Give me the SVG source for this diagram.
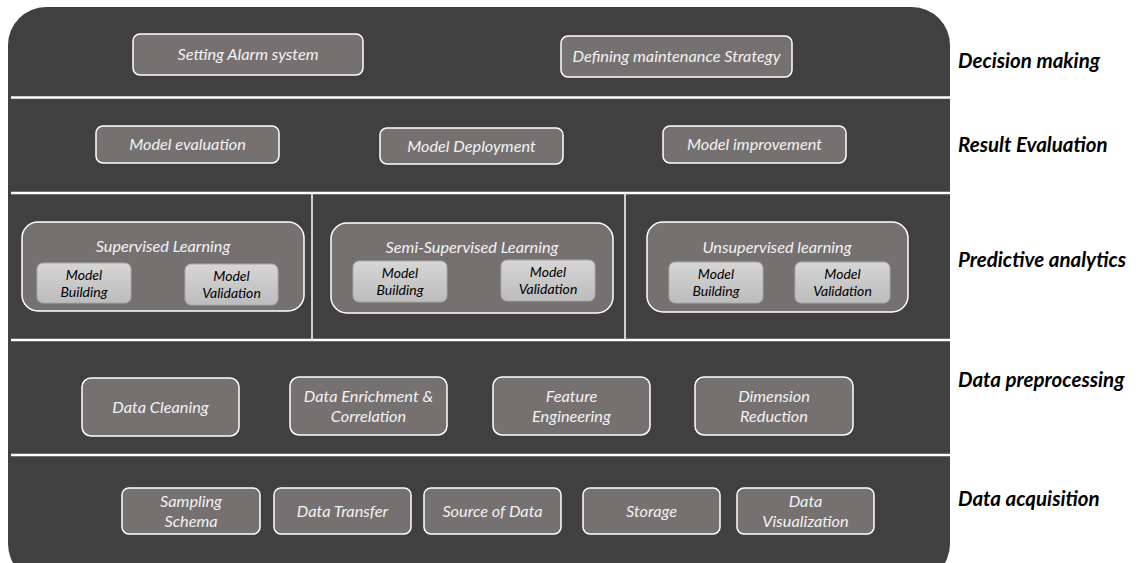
<svg xmlns="http://www.w3.org/2000/svg" width="1138" height="563" viewBox="0 0 1138 563">
  <defs>
    <linearGradient id="innerFill" x1="0" y1="0" x2="0" y2="1">
      <stop offset="0" stop-color="#d6d6d6"/>
      <stop offset="1" stop-color="#bcbcbc"/>
    </linearGradient>
    <style>
      .panel { fill: #404040; }
      .sep { stroke: #ffffff; stroke-width: 2.5; fill: none; }
      .vsep { stroke: #ffffff; stroke-width: 1.5; fill: none; }
      .box { fill: #767171; stroke: #ffffff; stroke-width: 1.5; }
      .group { fill: #767171; stroke: #ffffff; stroke-width: 1.5; }
      .inner { fill: url(#innerFill); stroke: #a8a8a8; stroke-width: 1; }
      .t { font-family: Lato, "Liberation Sans", sans-serif; font-style: italic; font-size: 16.3px; fill: #f2f2f2; text-anchor: middle; }
      .ti { font-family: Lato, "Liberation Sans", sans-serif; font-style: italic; font-size: 14px; fill: #000000; text-anchor: middle; }
      .layer { font-family: Lato, "Liberation Sans", sans-serif; font-style: italic; font-weight: bold; font-size: 20.5px; fill: #000000; }
    </style>
  </defs>

  <rect width="1138" height="563" fill="#ffffff"/>

  <!-- dark stack panel, bottom edge runs past the canvas -->
  <rect class="panel" x="8" y="7" width="942" height="575" rx="38" ry="38"/>

  <!-- layer dividers -->
  <g id="dividers">
    <line class="sep" x1="11" y1="97.5" x2="950" y2="97.5"/>
    <line class="sep" x1="11" y1="193" x2="950" y2="193"/>
    <line class="sep" x1="11" y1="340" x2="950" y2="340"/>
    <line class="sep" x1="11" y1="455" x2="950" y2="455"/>
    <line class="vsep" x1="312" y1="193" x2="312" y2="340"/>
    <line class="vsep" x1="625" y1="193" x2="625" y2="340"/>
  </g>

  <!-- Decision making -->
  <g id="setting-alarm">
    <rect class="box" x="133" y="34" width="230" height="41" rx="7"/>
    <text class="t" x="248" y="60">Setting Alarm system</text>
  </g>
  <g id="maintenance-strategy">
    <rect class="box" x="561" y="36" width="231" height="41" rx="7"/>
    <text class="t" x="676.5" y="62">Defining maintenance Strategy</text>
  </g>

  <!-- Result evaluation -->
  <g id="model-evaluation">
    <rect class="box" x="96" y="126" width="183" height="37" rx="7"/>
    <text class="t" x="187.5" y="150">Model evaluation</text>
  </g>
  <g id="model-deployment">
    <rect class="box" x="380" y="128" width="183" height="36" rx="7"/>
    <text class="t" x="471.5" y="152">Model Deployment</text>
  </g>
  <g id="model-improvement">
    <rect class="box" x="663" y="126" width="183" height="37" rx="7"/>
    <text class="t" x="754.5" y="150">Model improvement</text>
  </g>

  <!-- Predictive analytics -->
  <g id="supervised">
    <rect class="group" x="22" y="222" width="282" height="89" rx="16"/>
    <text class="t" x="163" y="252">Supervised Learning</text>
    <g id="supervised-building">
      <rect class="inner" x="37" y="263" width="94" height="40" rx="6"/>
      <text class="ti" x="84" y="280">Model</text>
      <text class="ti" x="84" y="297">Building</text>
    </g>
    <g id="supervised-validation">
      <rect class="inner" x="185" y="264" width="93" height="41" rx="6"/>
      <text class="ti" x="231.5" y="281">Model</text>
      <text class="ti" x="231.5" y="298">Validation</text>
    </g>
  </g>
  <g id="semi-supervised">
    <rect class="group" x="331" y="223" width="282" height="90" rx="16"/>
    <text class="t" x="472" y="253">Semi-Supervised Learning</text>
    <g id="semi-building">
      <rect class="inner" x="353" y="261" width="94" height="41" rx="6"/>
      <text class="ti" x="400" y="278">Model</text>
      <text class="ti" x="400" y="295">Building</text>
    </g>
    <g id="semi-validation">
      <rect class="inner" x="501" y="260" width="94" height="41" rx="6"/>
      <text class="ti" x="548" y="277">Model</text>
      <text class="ti" x="548" y="294">Validation</text>
    </g>
  </g>
  <g id="unsupervised">
    <rect class="group" x="647" y="222" width="261" height="90" rx="16"/>
    <text class="t" x="777" y="253">Unsupervised learning</text>
    <g id="unsupervised-building">
      <rect class="inner" x="669" y="262" width="94" height="41" rx="6"/>
      <text class="ti" x="716" y="279">Model</text>
      <text class="ti" x="716" y="296">Building</text>
    </g>
    <g id="unsupervised-validation">
      <rect class="inner" x="795" y="262" width="95" height="41" rx="6"/>
      <text class="ti" x="842.5" y="279">Model</text>
      <text class="ti" x="842.5" y="296">Validation</text>
    </g>
  </g>

  <!-- Data preprocessing -->
  <g id="data-cleaning">
    <rect class="box" x="82" y="378" width="157" height="58" rx="9"/>
    <text class="t" x="160.5" y="413">Data Cleaning</text>
  </g>
  <g id="data-enrichment">
    <rect class="box" x="290" y="377" width="157" height="58" rx="9"/>
    <text class="t" x="368.5" y="402">Data Enrichment &amp;</text>
    <text class="t" x="368.5" y="422">Correlation</text>
  </g>
  <g id="feature-engineering">
    <rect class="box" x="493" y="377" width="157" height="58" rx="9"/>
    <text class="t" x="571.5" y="402">Feature</text>
    <text class="t" x="571.5" y="422">Engineering</text>
  </g>
  <g id="dimension-reduction">
    <rect class="box" x="695" y="377" width="158" height="58" rx="9"/>
    <text class="t" x="774" y="402">Dimension</text>
    <text class="t" x="774" y="422">Reduction</text>
  </g>

  <!-- Data acquisition -->
  <g id="sampling-schema">
    <rect class="box" x="122" y="488" width="138" height="46" rx="7"/>
    <text class="t" x="191" y="507">Sampling</text>
    <text class="t" x="191" y="527">Schema</text>
  </g>
  <g id="data-transfer">
    <rect class="box" x="274" y="488" width="137" height="46" rx="7"/>
    <text class="t" x="342.5" y="517">Data Transfer</text>
  </g>
  <g id="source-of-data">
    <rect class="box" x="424" y="488" width="137" height="46" rx="7"/>
    <text class="t" x="492.5" y="517">Source of Data</text>
  </g>
  <g id="storage">
    <rect class="box" x="583" y="488" width="137" height="46" rx="7"/>
    <text class="t" x="651.5" y="517">Storage</text>
  </g>
  <g id="data-visualization">
    <rect class="box" x="737" y="488" width="137" height="46" rx="7"/>
    <text class="t" x="805.5" y="507">Data</text>
    <text class="t" x="805.5" y="527">Visualization</text>
  </g>

  <!-- layer names -->
  <g id="layer-labels">
    <text class="layer" x="958" y="68">Decision making</text>
    <text class="layer" x="958" y="152">Result Evaluation</text>
    <text class="layer" x="958" y="267">Predictive analytics</text>
    <text class="layer" x="958" y="387">Data preprocessing</text>
    <text class="layer" x="958" y="506">Data acquisition</text>
  </g>
</svg>
